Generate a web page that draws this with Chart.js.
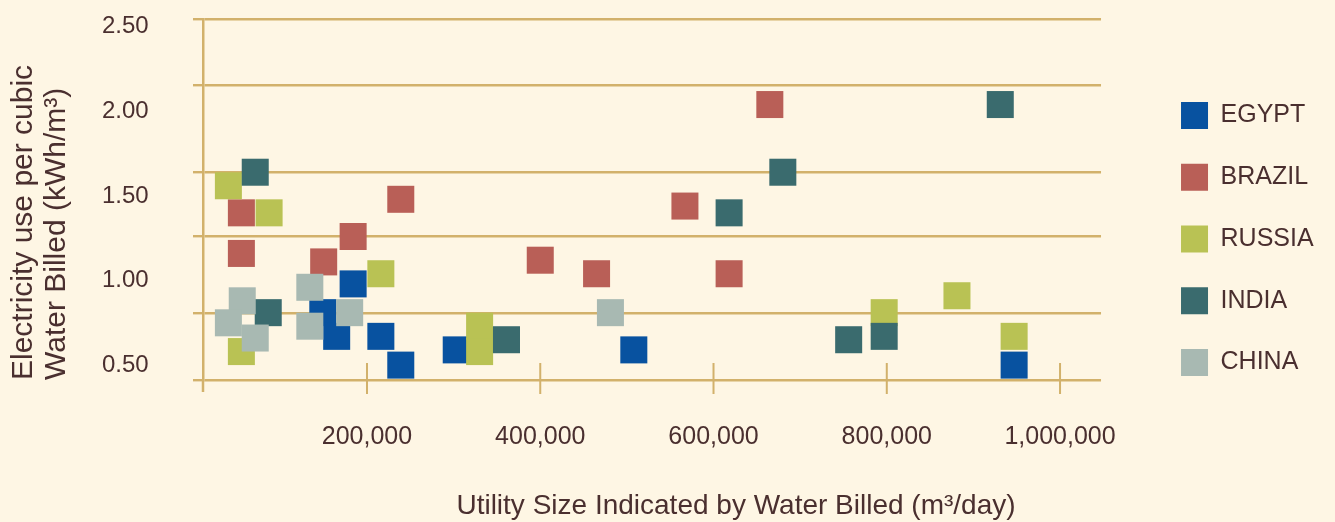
<!DOCTYPE html>
<html><head><meta charset="utf-8">
<script src="https://cdn.jsdelivr.net/npm/chart.js@4.4.1/dist/chart.umd.min.js"></script>
<style>html,body{margin:0;padding:0;background:#fef6e4;}canvas{display:block;}</style>
</head><body>
<canvas id="c" width="1335" height="522"></canvas>
<script>
const seriesNames = ['EGYPT', 'BRAZIL', 'RUSSIA', 'INDIA', 'CHINA'];
const egyptX  = [184000, 149000, 165000, 216000, 239000, 303000, 508000, 947000];
const egyptY  = [0.98, 0.81, 0.67, 0.67, 0.50, 0.59, 0.59, 0.50];
const brazilX = [55000, 55000, 239000, 184000, 150000, 665000, 567000, 400000, 465000, 618000];
const brazilY = [1.40, 1.16, 1.48, 1.26, 1.11, 2.04, 1.44, 1.12, 1.04, 1.04];
const russiaX = [40000, 87000, 216000, 55000, 330000, 330000, 881000, 797000, 947000];
const russiaY = [1.56, 1.40, 1.04, 0.58, 0.73, 0.58, 0.91, 0.81, 0.67];
const indiaX  = [71000, 86000, 680000, 618000, 361000, 931000, 797000, 756000];
const indiaY  = [1.64, 0.81, 1.64, 1.40, 0.65, 2.04, 0.67, 0.65];
const chinaX  = [134000, 56000, 40000, 71000, 134000, 180000, 481000];
const chinaY  = [0.96, 0.88, 0.75, 0.66, 0.73, 0.81, 0.81];

const xTickValues = [200000, 400000, 600000, 800000, 1000000];
const yTickValues = [0.5, 1.0, 1.5, 2.0, 2.5];
const gridLineValues = [0.412, 0.809, 1.264, 1.641, 2.157, 2.545];
const xRange = [10700, 1047300];
const yRange = [0.412, 2.545];

const seriesColors = ['#0852a0', '#b95f57', '#b9c254', '#3a6b6e', '#a8b9b2'];
const drawOrder = [3, 4, 2, 1, 0];
const gridColor = '#d2b16b';
const textColor = '#4a2f2f';
const FONT = '"Liberation Sans", Arial, Helvetica, sans-serif';

const seriesX = [egyptX, brazilX, russiaX, indiaX, chinaX];
const seriesY = [egyptY, brazilY, russiaY, indiaY, chinaY];

const datasets = seriesNames.map((name, i) => ({
  label: name,
  data: seriesX[i].map((x, j) => ({x: x, y: seriesY[i][j]})),
  backgroundColor: seriesColors[i],
  borderColor: seriesColors[i],
  borderWidth: 0,
  pointStyle: 'rect',
  pointRadius: 19.1,
  pointHoverRadius: 19.1,
  order: drawOrder[i]
}));

const yAllTicks = gridLineValues.concat(yTickValues).sort((a, b) => a - b);

const tickMarks = {
  id: 'tickMarks',
  beforeDatasetsDraw(chart) {
    const {ctx, chartArea, scales} = chart;
    const x = scales.x;
    ctx.save();
    ctx.strokeStyle = gridColor;
    ctx.beginPath();
    ctx.lineWidth = 2.5;
    ctx.moveTo(chartArea.left, chartArea.bottom);
    ctx.lineTo(chartArea.left, chartArea.bottom + 12);
    ctx.stroke();
    ctx.beginPath();
    ctx.lineWidth = 2;
    xTickValues.forEach(v => {
      const px = x.getPixelForValue(v);
      ctx.moveTo(px, chartArea.bottom - 17);
      ctx.lineTo(px, chartArea.bottom + 14);
    });
    ctx.stroke();
    ctx.restore();
  }
};

function zeroPad(s) { s.paddingTop = 0; s.paddingBottom = 0; s.paddingLeft = 0; s.paddingRight = 0; }

const LP = 148.4, RP = 11.4;

new Chart(document.getElementById('c'), {
  type: 'scatter',
  data: {datasets},
  plugins: [tickMarks],
  options: {
    responsive: false,
    animation: false,
    layout: {padding: {left: LP, right: RP, top: 16, bottom: 0}},
    scales: {
      x: {
        type: 'linear', position: 'bottom',
        min: xRange[0], max: xRange[1],
        afterBuildTicks: s => { s.ticks = xTickValues.map(v => ({value: v})); },
        afterFit: s => { s.height = 111.2; zeroPad(s); },
        grid: {display: false, drawTicks: false},
        border: {display: false},
        ticks: {
          autoSkip: false, maxRotation: 0, padding: 42,
          color: textColor, font: {family: FONT, size: 25},
          callback: v => Number(v).toLocaleString('en-US')
        }
      },
      y: {
        type: 'linear', position: 'left',
        min: yRange[0], max: yRange[1],
        afterBuildTicks: s => { s.ticks = yAllTicks.map(v => ({value: v})); },
        afterFit: s => { s.width = 203 - LP; zeroPad(s); },
        grid: {
          color: c => (c.tick && gridLineValues.includes(c.tick.value)) ? gridColor : 'rgba(0,0,0,0)',
          lineWidth: 2.4, drawTicks: true, tickLength: 10
        },
        border: {display: true, color: gridColor, width: 2.5},
        ticks: {
          autoSkip: false, mirror: true, padding: -101,
          color: textColor, font: {family: FONT, size: 24},
          callback: v => yTickValues.includes(v) ? Number(v).toFixed(2) : ''
        },
        title: {
          display: true, align: 'start',
          text: ['Electricity use per cubic', 'Water Billed (kWh/m\u00b3)'],
          color: textColor, font: {family: FONT, size: 30, lineHeight: '33px'},
          padding: {top: 24 - 16.5 - LP, bottom: 0}
        }
      },
      yR: {
        type: 'linear', position: 'right',
        afterFit: s => { s.width = 45.25; zeroPad(s); },
        grid: {display: false, drawTicks: false},
        border: {display: false},
        ticks: {display: false}
      }
    },
    plugins: {
      legend: {
        position: 'right', align: 'start',
        title: {display: true, text: '', font: {size: 10, lineHeight: 1}, padding: {top: 41.25, bottom: 0}},
        labels: {
          boxWidth: 27, boxHeight: 27, padding: 34.75,
          color: textColor, font: {family: FONT, size: 25},
          sort: (a, b) => a.datasetIndex - b.datasetIndex
        }
      },
      title: {
        display: true, position: 'bottom', align: 'center',
        text: 'Utility Size Indicated by Water Billed (m\u00b3/day)',
        color: textColor, font: {family: FONT, size: 28, weight: 'normal', lineHeight: 1.1},
        padding: 0
      },
      tooltip: {enabled: true}
    }
  }
});
</script>
</body></html>
